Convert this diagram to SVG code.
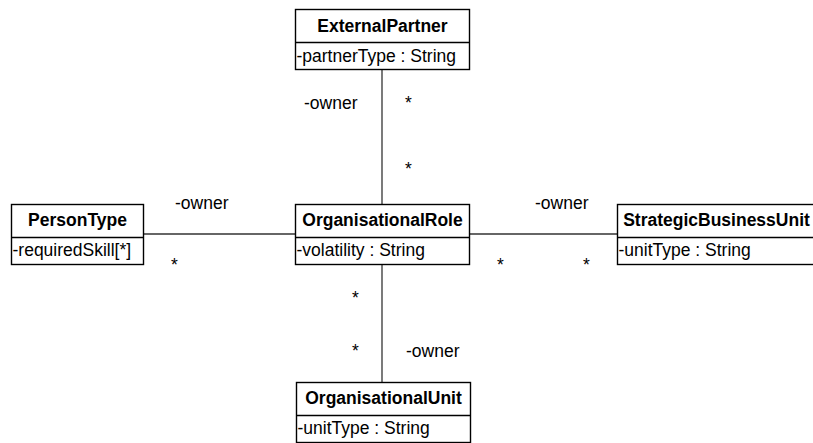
<svg xmlns="http://www.w3.org/2000/svg" width="813" height="443" viewBox="0 0 813 443">
<style>
  .box { fill: #fff; stroke: #000; stroke-width: 1.4; }
  .div { stroke: #000; stroke-width: 1.4; fill: none; }
  .name { font-family: "Liberation Sans", Arial, sans-serif; font-size: 17.5px; font-weight: bold; text-anchor: middle; fill: #000; }
  .attr { font-family: "Liberation Sans", Arial, sans-serif; font-size: 17.5px; fill: #000; }
  .lbl { font-family: "Liberation Sans", Arial, sans-serif; font-size: 17.5px; fill: #000; }
  .conn { stroke: #333; stroke-width: 1.3; fill: none; }
</style>
<rect width="813" height="443" fill="#fff"/>
<g id="connectors">
  <line class="conn" x1="382" y1="69" x2="382" y2="204"/>
  <line class="conn" x1="143" y1="234" x2="296" y2="234"/>
  <line class="conn" x1="470" y1="234" x2="617" y2="234"/>
  <line class="conn" x1="382" y1="264" x2="382" y2="382"/>
  <text class="lbl" x="304" y="109">-owner</text>
  <text class="lbl" x="405" y="109">*</text>
  <text class="lbl" x="405" y="175">*</text>
  <text class="lbl" x="175" y="209">-owner</text>
  <text class="lbl" x="171" y="271">*</text>
  <text class="lbl" x="535" y="209">-owner</text>
  <text class="lbl" x="497" y="271">*</text>
  <text class="lbl" x="583" y="271">*</text>
  <text class="lbl" x="352" y="304">*</text>
  <text class="lbl" x="352" y="357">*</text>
  <text class="lbl" x="406" y="357">-owner</text>
</g>
<g id="ExternalPartner">
  <rect class="box" x="295.5" y="9.5" width="174" height="60"/>
  <line class="div" x1="295.5" y1="42.5" x2="469.5" y2="42.5"/>
  <text class="name" x="382.5" y="32">ExternalPartner</text>
  <text class="attr" x="296.5" y="62">-partnerType : String</text>
</g>
<g id="PersonType">
  <rect class="box" x="11.5" y="204.5" width="132" height="60"/>
  <line class="div" x1="11.5" y1="237.5" x2="143.5" y2="237.5"/>
  <text class="name" x="77.5" y="226">PersonType</text>
  <text class="attr" x="12.5" y="256">-requiredSkill[*]</text>
</g>
<g id="OrganisationalRole">
  <rect class="box" x="295.5" y="204.5" width="174" height="60"/>
  <line class="div" x1="295.5" y1="237.5" x2="469.5" y2="237.5"/>
  <text class="name" x="382.5" y="226">OrganisationalRole</text>
  <text class="attr" x="296.5" y="256">-volatility : String</text>
</g>
<g id="StrategicBusinessUnit">
  <rect class="box" x="617.5" y="204.5" width="200" height="60"/>
  <line class="div" x1="617.5" y1="237.5" x2="817.5" y2="237.5"/>
  <text class="name" x="716.5" y="226">StrategicBusinessUnit</text>
  <text class="attr" x="618.5" y="256">-unitType : String</text>
</g>
<g id="OrganisationalUnit">
  <rect class="box" x="296.5" y="382.5" width="174" height="60"/>
  <line class="div" x1="296.5" y1="415.5" x2="470.5" y2="415.5"/>
  <text class="name" x="383.5" y="404">OrganisationalUnit</text>
  <text class="attr" x="297.5" y="434">-unitType : String</text>
</g>
</svg>
